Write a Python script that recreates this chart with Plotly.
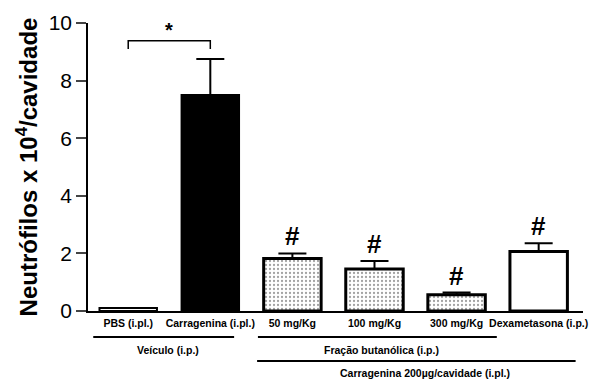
import plotly.graph_objects as go

categories = ["PBS (i.pl.)", "Carragenina (i.pl.)", "50 mg/Kg", "100 mg/Kg", "300 mg/Kg", "Dexametasona (i.p.)"]
means = [0.1, 7.5, 1.82, 1.46, 0.56, 2.07]
sem = [0.0, 1.25, 0.18, 0.28, 0.08, 0.28]
sig_marks = ["", "", "#", "#", "#", "#"]
y_ticks = [0, 2, 4, 6, 8, 10]

FONT = "Arial, Liberation Sans, sans-serif"
x = list(range(len(categories)))

fill_colors = ["white", "black", "white", "white", "white", "white"]
pattern_shapes = ["", "", ".", ".", ".", ""]
line_widths = [2, 2, 3, 3, 3, 3]

fig = go.Figure()
fig.add_trace(go.Bar(
    x=x, y=means, width=0.7,
    marker=dict(color=fill_colors, line=dict(color="black", width=line_widths),
                pattern=dict(shape=pattern_shapes, fgcolor="black", bgcolor="white",
                             size=4, solidity=0.25)),
    error_y=dict(type="data", array=sem, arrayminus=[0]*len(sem), symmetric=False,
                 color="black", thickness=2, width=14),
    showlegend=False,
))

# significance marks
for xi, m, s, mk in zip(x, means, sem, sig_marks):
    if mk:
        fig.add_annotation(x=xi, y=m + s, text="<b>#</b>", showarrow=False,
                           yanchor="bottom", yshift=0, font=dict(size=26, color="black", family=FONT))

# bracket with asterisk between PBS and Carragenina
fig.add_shape(type="path", path="M 0,9.1 L 0,9.38 L 1,9.38 L 1,9.1", xref="x", yref="y",
              line=dict(color="black", width=1.5))
fig.add_annotation(x=0.5, y=9.38, text="<b>*</b>", showarrow=False, yanchor="bottom", yshift=-2,
                   font=dict(size=20, color="black", family=FONT))

# group lines and labels below axis
groups = [
    (-0.426, 1.29, -0.09, "Veículo (i.p.)", 0.48, -0.137),
    (1.58, 4.49, -0.09, "Fração butanólica (i.p.)", 3.08, -0.137),
    (1.57, 5.45, -0.174, "Carragenina 200µg/cavidade (i.pl.)", 3.61, -0.216),
]
for x0, x1, yl, txt, xt, yt in groups:
    fig.add_shape(type="line", x0=x0, x1=x1, y0=yl, y1=yl, xref="x", yref="paper",
                  line=dict(color="black", width=2))
    fig.add_annotation(x=xt, y=yt, xref="x", yref="paper", text="<b>" + txt + "</b>",
                       showarrow=False, xanchor="center", yanchor="middle",
                       font=dict(size=10.5, color="black", family=FONT))

# page body has an 8px margin: figure is shifted by 8px, so compensate
fig.update_layout(
    width=590, height=372,
    margin=dict(l=80, r=15, t=15, b=69, autoexpand=False),
    plot_bgcolor="white", paper_bgcolor="white",
    font=dict(family=FONT, color="black"),
)
fig.update_xaxes(
    range=[-0.49, 5.54], tickvals=x, ticktext=["<b>" + c + "</b>" for c in categories],
    tickfont=dict(size=10.5, color="black"), ticks="", showline=True, linecolor="black",
    linewidth=1.5, showgrid=False, zeroline=False, ticklabelstandoff=2, automargin=False,
)
fig.update_yaxes(
    range=[0, 10], tickvals=y_ticks, ticks="outside", ticklen=10, tickwidth=1.5,
    tickfont=dict(size=21, color="black"), showline=True, linecolor="black", linewidth=1.5,
    showgrid=False, zeroline=False, automargin=False,
    title=dict(text="<b>Neutrófilos x 10<sup>4</sup>/cavidade</b>", font=dict(size=24, color="black"),
               standoff=4),
)

fig.write_html("out.html")
